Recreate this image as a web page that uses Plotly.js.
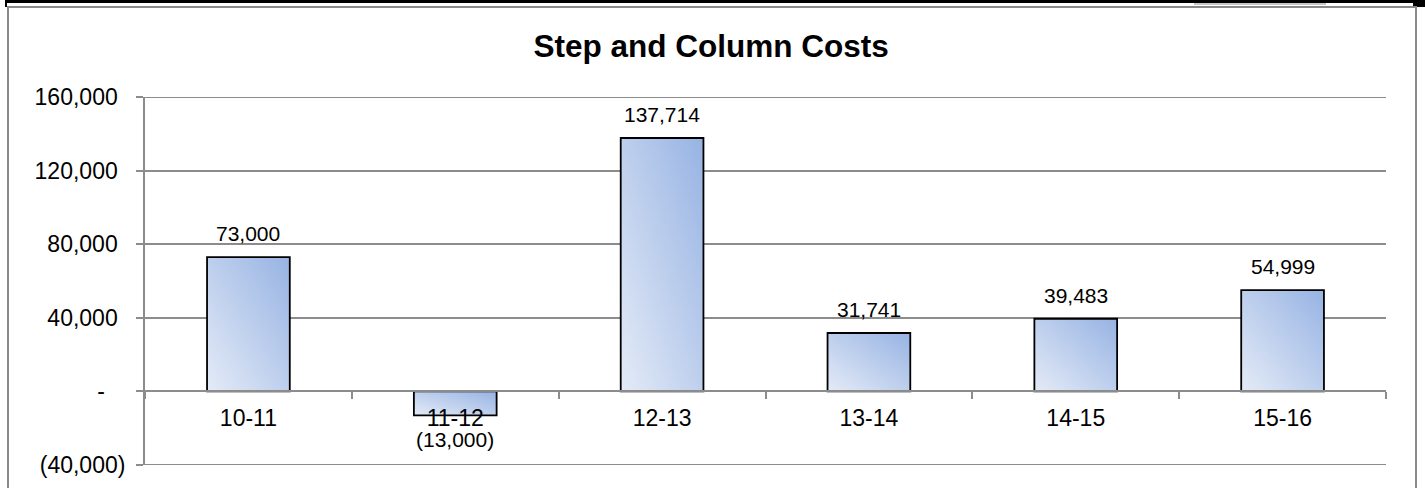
<!DOCTYPE html>
<html>
<head>
<meta charset="utf-8">
<script src="https://cdn.plot.ly/plotly-3.0.1.min.js"></script>
<style>
  html, body { margin: 0; padding: 0; background: #ffffff; }
  #wrap { position: relative; width: 1425px; height: 488px; overflow: hidden; background: #ffffff; }
  #topband { position: absolute; left: 5px; top: 0; width: 1420px; height: 3px; background: #000; }
  #topband2 { position: absolute; left: 1194px; top: 3px; width: 132px; height: 2px; background: #c8c8c8; }
  #leftnub { position: absolute; left: 5px; top: 3px; width: 2px; height: 4px; background: #000; }
  #rightnub { position: absolute; left: 1413px; top: 0; width: 12px; height: 7px; background: #000; }
  #frame { position: absolute; left: 7px; top: 6px; width: 1406px; height: 500px; border: 2px solid #8a8a8a; }
  #chart { position: absolute; left: 0; top: 0; width: 1425px; height: 488px; }
</style>
</head>
<body>
<div id="wrap">
  <div id="topband"></div>
  <div id="topband2"></div>
  <div id="leftnub"></div>
  <div id="rightnub"></div>
  <div id="frame"></div>
  <div id="chart"></div>
</div>
<script>
// ---- data ----
const categories = ["10-11", "11-12", "12-13", "13-14", "14-15", "15-16"];
const costs = [73000, -13000, 137714, 31741, 39483, 54999];
const valueLabels = ["73,000", "(13,000)", "137,714", "31,741", "39,483", "54,999"];
const yTickVals = [-40000, 0, 40000, 80000, 120000, 160000];
const yTickText = ["(40,000)", "-", "40,000", "80,000", "120,000", "160,000"];
const chartTitle = "Step and Column Costs";

// ---- styling helpers ----
const hide = s => '<span style="color:rgba(0,0,0,0)">' + s + '</span>';
const yTickDisplay = yTickText.map(t => {
  if (t.startsWith("(")) return t;
  if (t === "-") return t + hide("0)");
  return t + hide(")");
});

const FONT = "Liberation Sans, Arial, Helvetica, sans-serif";
const GRID = "#8c8c8c";

const annotations = categories.map((c, i) => ({
  x: c,
  y: costs[i],
  xref: "x",
  yref: "y",
  text: valueLabels[i],
  showarrow: false,
  yanchor: costs[i] >= 0 ? "bottom" : "top",
  yshift: costs[i] >= 0 ? 10 : -11,
  font: { family: FONT, size: 21, color: "#000" }
}));

// gridlines at the two range ends (Plotly omits grid lines on the plot edges)
const yMin = yTickVals[0];
const yMax = yTickVals[yTickVals.length - 1];
const edgeShapes = [yMin, yMax].map(v => ({
  type: "line", xref: "paper", yref: "y",
  x0: 0, x1: 1, y0: v, y1: v,
  line: { color: GRID, width: 2 },
  layer: "below"
}));

const trace = {
  type: "bar",
  x: categories,
  y: costs,
  width: 0.4,
  marker: { color: "#bccde9", line: { color: "#000000", width: 1.8 } },
  hoverinfo: "none"
};

const layout = {
  width: 1425,
  height: 488,
  margin: { l: 145, r: 39, t: 97, b: 23, pad: 0 },
  paper_bgcolor: "rgba(0,0,0,0)",
  plot_bgcolor: "rgba(0,0,0,0)",
  showlegend: false,
  font: { family: FONT, color: "#000" },
  title: {
    text: "<b>" + chartTitle + "</b>",
    font: { family: FONT, size: 31.5, color: "#000" },
    xref: "container", x: 0.499, xanchor: "center",
    yref: "container", y: 1 - 45.5 / 488, yanchor: "middle"
  },
  xaxis: {
    type: "category",
    anchor: "free",
    position: 0.2,
    showline: true, linecolor: GRID, linewidth: 2,
    ticks: "outside", tickson: "boundaries", ticklen: 7, tickwidth: 2, tickcolor: GRID,
    showgrid: false,
    tickfont: { family: FONT, size: 23, color: "#000" },
    ticklabelstandoff: 6,
    fixedrange: true
  },
  yaxis: {
    range: [yMin, yMax],
    tickmode: "array",
    tickvals: yTickVals,
    ticktext: yTickDisplay,
    showline: true, linecolor: GRID, linewidth: 2,
    ticks: "outside", ticklen: 7, tickwidth: 2, tickcolor: GRID,
    showgrid: true, gridcolor: GRID, gridwidth: 2,
    zeroline: false,
    tickfont: { family: FONT, size: 23, color: "#000" },
    ticklabelstandoff: 6,
    fixedrange: true
  },
  shapes: edgeShapes,
  annotations: annotations
};

function applyGradient(gd) {
  const svg = gd.querySelector("svg.main-svg");
  if (!svg) return;
  const ns = "http://www.w3.org/2000/svg";
  let defs = svg.querySelector("defs");
  if (!defs) { defs = document.createElementNS(ns, "defs"); svg.insertBefore(defs, svg.firstChild); }
  if (!svg.querySelector("#barGrad")) {
    const g = document.createElementNS(ns, "linearGradient");
    g.setAttribute("id", "barGrad");
    g.setAttribute("x1", "0"); g.setAttribute("y1", "1");
    g.setAttribute("x2", "1"); g.setAttribute("y2", "0");
    const s1 = document.createElementNS(ns, "stop");
    s1.setAttribute("offset", "0"); s1.setAttribute("stop-color", "#e4ebf7");
    const s2 = document.createElementNS(ns, "stop");
    s2.setAttribute("offset", "1"); s2.setAttribute("stop-color", "#97b3e3");
    g.appendChild(s1); g.appendChild(s2);
    defs.appendChild(g);
  }
  gd.querySelectorAll(".bars .point path").forEach(p => {
    p.style.fill = "url(#barGrad)";
    p.style.fillOpacity = "1";
  });
}

const gd = document.getElementById("chart");
Plotly.newPlot(gd, [trace], layout, { displayModeBar: false, staticPlot: true })
  .then(() => applyGradient(gd));
</script>
</body>
</html>
